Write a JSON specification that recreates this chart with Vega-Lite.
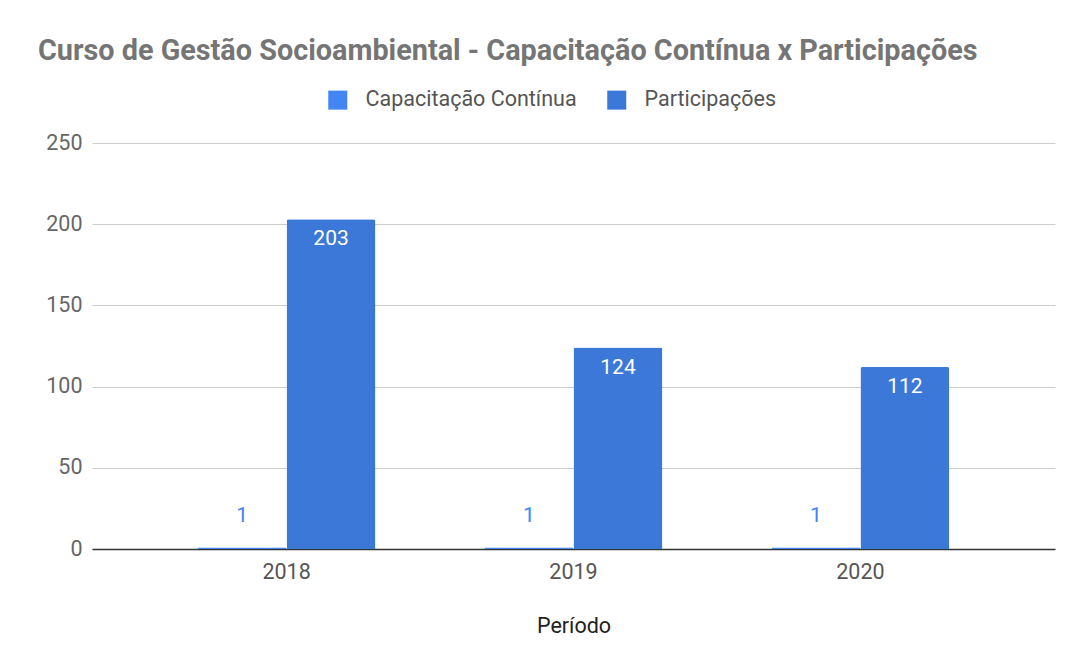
{
  "$schema": "https://vega.github.io/schema/vega-lite/v6.json",
  "width": 963,
  "height": 406,
  "autosize": {"type": "none"},
  "padding": {"left": 92, "top": 143, "right": 17, "bottom": 119},
  "background": "#ffffff",
  "config": {
    "font": "Roboto",
    "view": {"stroke": null}
  },
  "title": {
    "text": "Curso de Gestão Socioambiental - Capacitação Contínua x Participações",
    "font": "Roboto",
    "fontSize": 28.8,
    "fontWeight": "bold",
    "color": "#757575",
    "anchor": "start",
    "frame": "group",
    "dx": -54,
    "offset": 23
  },
  "data": {
    "values": [
      {"Periodo": "2018", "serie": "Capacitação Contínua", "valor": 1},
      {"Periodo": "2018", "serie": "Participações", "valor": 203},
      {"Periodo": "2019", "serie": "Capacitação Contínua", "valor": 1},
      {"Periodo": "2019", "serie": "Participações", "valor": 124},
      {"Periodo": "2020", "serie": "Capacitação Contínua", "valor": 1},
      {"Periodo": "2020", "serie": "Participações", "valor": 112}
    ]
  },
  "encoding": {
    "x": {
      "field": "Periodo",
      "type": "nominal",
      "title": "Período",
      "scale": {"paddingInner": 0.38, "paddingOuter": 0.368},
      "axis": {
        "labelAngle": 0,
        "labelFontSize": 21.5,
        "labelColor": "#555555",
        "labelPadding": 12,
        "ticks": false,
        "domainColor": "#333333",
        "domainWidth": 1.5,
        "titleFontSize": 21.5,
        "titleFontWeight": "normal",
        "titleColor": "#222222",
        "titlePadding": 33
      }
    },
    "xOffset": {
      "field": "serie",
      "type": "nominal",
      "scale": {"domain": ["Capacitação Contínua", "Participações"], "paddingInner": 0, "paddingOuter": 0}
    },
    "y": {
      "field": "valor",
      "type": "quantitative",
      "scale": {"domain": [0, 250], "nice": false},
      "axis": {
        "title": null,
        "values": [0, 50, 100, 150, 200, 250],
        "labelFontSize": 21.5,
        "labelColor": "#666666",
        "labelPadding": 10,
        "domain": false,
        "ticks": false,
        "gridColor": "#cccccc"
      }
    }
  },
  "layer": [
    {
      "mark": {"type": "bar", "cornerRadiusTopLeft": 2, "cornerRadiusTopRight": 2},
      "encoding": {
        "color": {
          "field": "serie",
          "type": "nominal",
          "scale": {"domain": ["Capacitação Contínua", "Participações"], "range": ["#4285f4", "#3c78d8"]},
          "legend": {
            "title": null,
            "orient": "none",
            "direction": "horizontal",
            "legendX": 235,
            "legendY": -54,
            "symbolType": "square",
            "symbolSize": 361,
            "symbolStrokeWidth": 0,
            "labelFontSize": 21.5,
            "labelColor": "#555555",
            "labelOffset": 17,
            "labelLimit": 500,
            "columnPadding": 29
          }
        }
      }
    },
    {
      "transform": [{"filter": "datum.serie === 'Participações'"}],
      "mark": {"type": "text", "baseline": "middle", "dy": 20, "fontSize": 21, "color": "#ffffff"},
      "encoding": {"text": {"field": "valor", "type": "quantitative"}}
    },
    {
      "transform": [{"filter": "datum.serie === 'Capacitação Contínua'"}],
      "mark": {"type": "text", "baseline": "middle", "dy": -31, "fontSize": 21, "color": "#4285f4"},
      "encoding": {"text": {"field": "valor", "type": "quantitative"}}
    }
  ]
}
